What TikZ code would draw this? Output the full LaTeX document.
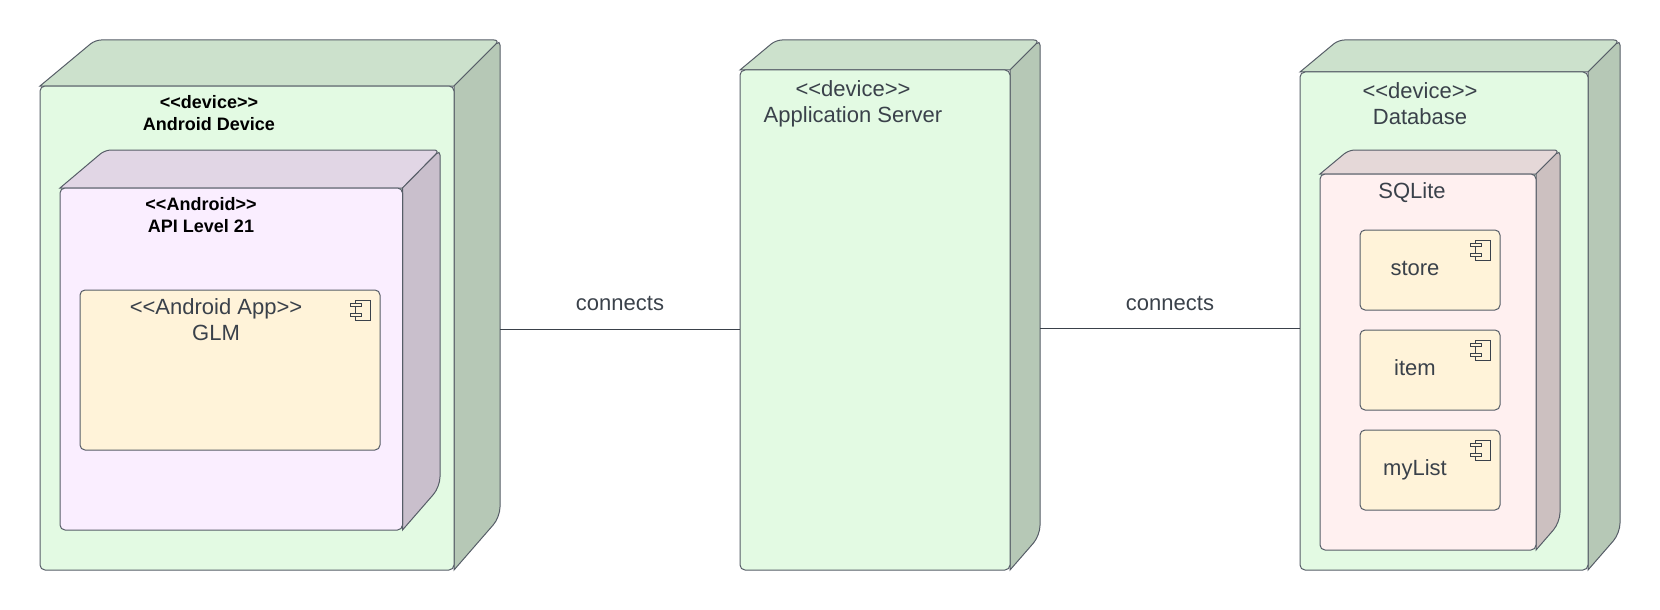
\documentclass[tikz,border=0pt]{standalone}
\usepackage{fontspec}
\newfontfamily\diagfont{Liberation Sans}
\definecolor{inkc}{HTML}{3A414A}
\definecolor{edgec}{HTML}{565D67}
\definecolor{greenF}{HTML}{E3FAE3}
\definecolor{greenT}{HTML}{CCE1CC}
\definecolor{greenS}{HTML}{B6C8B6}
\definecolor{purpleF}{HTML}{FAEEFF}
\definecolor{purpleT}{HTML}{E1D6E5}
\definecolor{purpleS}{HTML}{C9BFCC}
\definecolor{pinkF}{HTML}{FFF0F0}
\definecolor{pinkT}{HTML}{E5D8D8}
\definecolor{pinkS}{HTML}{CCC0C0}
\definecolor{compF}{HTML}{FFF3D9}
\tikzset{
  edge/.style={draw=edgec,line width=1pt},
  link/.style={draw=inkc,line width=1pt},
  plain/.style={text=inkc,font=\diagfont\fontsize{22}{26}\selectfont,inner sep=0pt,align=center},
  heavy/.style={text=black,font=\diagfont\bfseries\fontsize{18}{22}\selectfont,inner sep=0pt,align=center},
  comp/.style={edge,fill=compF,rectangle,rounded corners=5pt,inner sep=0pt,outer sep=0pt},
}
% name, front left, front right, back right, back top, front top, bottom, colours
\newcommand{\devbox}[8]{
  \node[inner sep=0pt,outer sep=0pt,minimum width={(#4-#2)*1pt},minimum height={(#7-#5)*1pt}] (#1) at ({(#2+#4)/2},{(#5+#7)/2}) {};
  \draw[edge,fill=#8T] (#2,#6) [rounded corners=6pt] -- ({#2+(#4-#3)*1.2},#5) -- (#4,#5) [sharp corners] -- (#3,#6) -- cycle;
  \draw[edge,fill=#8S] (#3,#6) [rounded corners=5pt] -- (#4,#5) [rounded corners=10pt] -- (#4,{#7-(#4-#3)*1.15}) [sharp corners] -- (#3,#7) -- cycle;
  \node[edge,fill=#8F,rectangle,rounded corners=5pt,inner sep=0pt,outer sep=0pt,minimum width={(#3-#2)*1pt},minimum height={(#7-#6)*1pt}] (#1 front) at ({(#2+#3)/2},{(#6+#7)/2}) {};
}
% name, left, top, right, bottom
\newcommand{\compbox}[5]{
  \node[comp,minimum width={(#4-#2)*1pt},minimum height={(#5-#3)*1pt}] (#1) at ({(#2+#4)/2},{(#3+#5)/2}) {};
  \draw[link] ([shift={(-9.3pt,-10pt)}]#1.north east) rectangle ++(-15.3pt,-20pt);
  \draw[link,fill=compF] ([shift={(-24.6pt,-13.3pt)}]#1.north east) ++(-5pt,0pt) rectangle ++(10.6pt,-3.6pt);
  \draw[link,fill=compF] ([shift={(-24.6pt,-23.3pt)}]#1.north east) ++(-5pt,0pt) rectangle ++(10.6pt,-3.6pt);
}
\begin{document}
\begin{tikzpicture}[x=1pt,y=-1pt]
  \useasboundingbox (0,0) rectangle (1660,610);
  % outer boxes
  \devbox{android}{40}{454}{500}{40}{86}{570}{green}
  \devbox{server}{740}{1010}{1040}{40}{70}{570}{green}
  \devbox{database}{1300}{1588}{1620}{40}{72}{570}{green}
  % inner boxes
  \devbox{api}{60}{402.5}{440}{150}{188}{530}{purple}
  \devbox{sqlite}{1320}{1536}{1560}{150}{174}{550}{pink}
  % components
  \compbox{glm}{80}{290}{380}{450}
  \compbox{store}{1360}{230}{1500}{310}
  \compbox{item}{1360}{330}{1500}{410}
  \compbox{mylist}{1360}{430}{1500}{510}
  % links
  \draw[link] (android.east |- 0,329) -- node[plain,above=17.5pt] (linkA) {connects} (server.west |- 0,329);
  \draw[link] (server.east |- 0,328) -- node[plain,above=16.5pt] (linkB) {connects} (database.west |- 0,328);
  % labels
  \node[heavy] (androidText) at (209,113) {<<device>>\\Android Device};
  \node[heavy] (apiText) at (201,215) {<<Android>>\\API Level 21};
  \node[plain] (glmText) at (216,319.5) {<<Android App>>\\GLM};
  \node[plain] (serverText) at (853,104) {<<device>>\\Application Server};
  \node[plain] (databaseText) at (1420,104) {<<device>>\\Database};
  \node[plain] (sqliteText) at (1412,193) {SQLite};
  \node[plain] (storeText) at (1415,268) {store};
  \node[plain] (itemText) at (1415,368) {item};
  \node[plain] (mylistText) at (1415,470) {myList};
\end{tikzpicture}
\end{document}
